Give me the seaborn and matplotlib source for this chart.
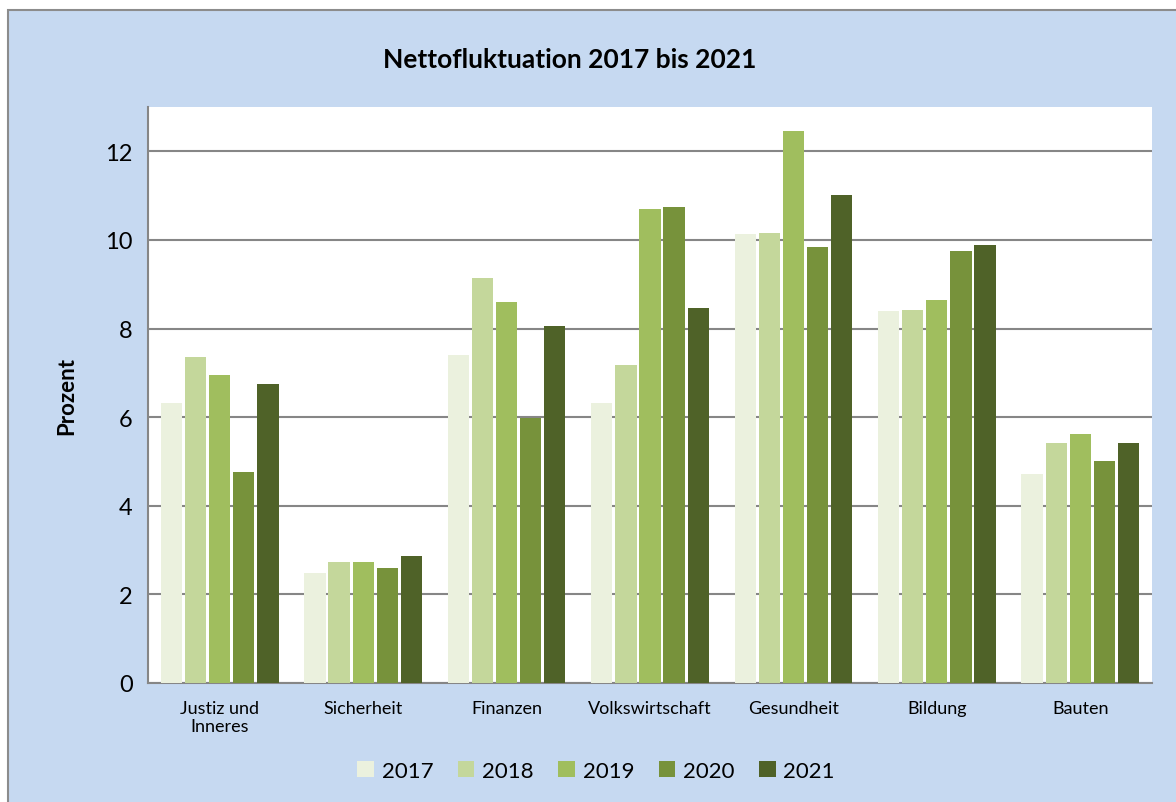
import numpy as np
import pandas as pd
import seaborn as sns
import matplotlib.pyplot as plt
from matplotlib.patches import Rectangle

# Data
categories = ["Justiz und\nInneres", "Sicherheit", "Finanzen", "Volkswirtschaft",
              "Gesundheit", "Bildung", "Bauten"]
years = ["2017", "2018", "2019", "2020", "2021"]
v2017 = [6.31, 2.48, 7.41, 6.31, 10.14, 8.39, 4.71]
v2018 = [7.35, 2.72, 9.14, 7.17, 10.15, 8.41, 5.41]
v2019 = [6.95, 2.73, 8.59, 10.69, 12.46, 8.65, 5.61]
v2020 = [4.77, 2.60, 5.98, 10.74, 9.84, 9.76, 5.00]
v2021 = [6.74, 2.87, 8.06, 8.46, 11.01, 9.89, 5.41]
colors = ["#EBF1DE", "#C4D79B", "#A0BE5E", "#77923B", "#4F6228"]

values = [v2017, v2018, v2019, v2020, v2021]
df = pd.DataFrame({
    "Bereich": categories * len(years),
    "Jahr": np.repeat(years, len(categories)),
    "Prozent": np.concatenate(values),
})

sns.set_style("white", {"text.color": "black", "axes.labelcolor": "black",
                        "xtick.color": "black", "ytick.color": "black"})
plt.rcParams["font.family"] = ["Lato", "DejaVu Sans"]

fig = plt.figure(figsize=(11.76, 8.03), dpi=100, facecolor="white")
# blue chart background with grey frame
bg = Rectangle((8 / 1176, -0.01), 1.0, 1 - 11 / 803 + 0.01,
               transform=fig.transFigure, facecolor="#C6D9F1",
               edgecolor="#8C8C8C", linewidth=1.5, zorder=-10)
fig.add_artist(bg)

ax = fig.add_axes([148 / 1176, 1 - 684 / 803, (1152 - 148) / 1176, (684 - 108) / 803])
ax.set_facecolor("white")

sns.barplot(data=df, x="Bereich", y="Prozent", hue="Jahr", palette=colors,
            saturation=1, width=0.84, gap=0.12, ax=ax, legend=True, zorder=3,
            edgecolor="none")

ax.set_ylim(0, 13)
ax.set_xlim(-0.5, len(categories) - 0.5)
ax.set_yticks([0, 2, 4, 6, 8, 10, 12])
ax.yaxis.grid(True, color="#868686", linewidth=1.5, zorder=1)
ax.set_axisbelow(True)

for side in ["top", "right"]:
    ax.spines[side].set_visible(False)
for side in ["left", "bottom"]:
    ax.spines[side].set_color("#868686")
    ax.spines[side].set_linewidth(1.5)

ax.tick_params(axis="y", labelsize=17, length=5, color="#868686", labelcolor="black",
               width=1.5, pad=6)
ax.tick_params(axis="x", which="major", labelsize=13, length=0, pad=12, labelcolor="black")
ax.set_xticks(np.arange(-0.5, len(categories), 1.0), minor=True)
ax.tick_params(axis="x", which="minor", length=5, color="#868686", width=1.5)

ax.set_xlabel("")
ax.set_ylabel("Prozent", fontsize=16, fontweight="bold", labelpad=20, color="black")

fig.text(570 / 1176, 1 - 60 / 803, "Nettofluktuation 2017 bis 2021",
         ha="center", va="center", fontsize=19, fontweight="bold", color="black")

handles, labels = ax.get_legend_handles_labels()
ax.get_legend().remove()
fig.legend(handles, labels, loc="center", bbox_to_anchor=(596 / 1176, 1 - 772 / 803),
           ncol=5, frameon=False, fontsize=16, handlelength=0.75, handleheight=0.75,
           handletextpad=0.35, columnspacing=1.1, labelcolor="black")

fig.savefig("out.png", dpi=100, facecolor=fig.get_facecolor())
